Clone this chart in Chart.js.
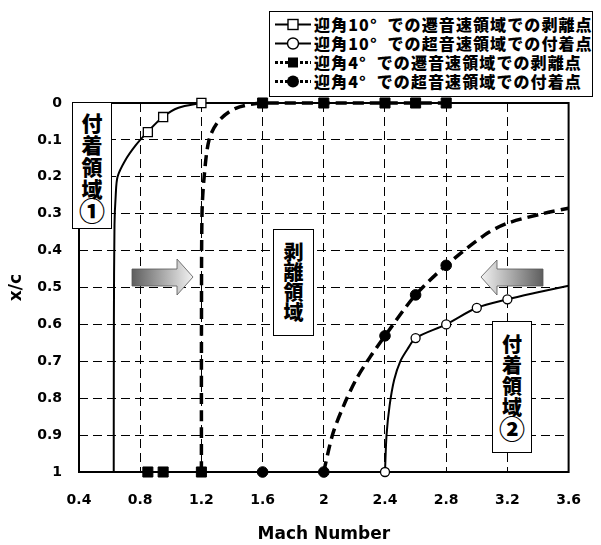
<!DOCTYPE html>
<html>
<head>
<meta charset="utf-8">
<script src="https://cdn.jsdelivr.net/npm/chart.js@4.4.0/dist/chart.umd.min.js"></script>
<style>
  html, body { margin: 0; padding: 0; background: #fff; }
  #wrap { position: relative; width: 601px; height: 545px; overflow: hidden; }
  #chart { position: absolute; left: 0; top: 0; }
  .jp { font-family: "Noto Sans CJK JP", sans-serif; font-weight: 900; color: #000; }
  .box { position: absolute; background: #fff; border: 1.5px solid #000; box-sizing: border-box; text-align: center; }
  .circ { display: inline-block; font-size: 26px; line-height: 22px; }
  #legend { position: absolute; left: 269px; top: 11px; width: 324px; height: 86px; background: #fff; border: 1.5px solid #000; box-sizing: border-box; }
  #legend .row { position: absolute; left: 0; height: 19px; display: flex; align-items: center; }
  #legend svg { margin-left: 5px; margin-right: 3px; flex: none; }
  #legend span { font-size: 16px; letter-spacing: 1.1px; word-spacing: 5px; line-height: 19px; white-space: nowrap; }
  .arrow { position: absolute; }
</style>
</head>
<body>
<div id="wrap">
  <canvas id="chart" width="601" height="545"></canvas>

  <div id="legend" class="jp">
    <div class="row" style="top:3px;">
      <svg width="36" height="19"><line x1="0" y1="9.5" x2="36" y2="9.5" stroke="#000" stroke-width="2"/><rect x="13" y="4.5" width="10" height="10" fill="#fff" stroke="#000" stroke-width="1.4"/></svg>
      <span>迎角10° での遷音速領域での剥離点</span>
    </div>
    <div class="row" style="top:22px;">
      <svg width="36" height="19"><line x1="0" y1="9.5" x2="36" y2="9.5" stroke="#000" stroke-width="2"/><circle cx="18" cy="9.5" r="5.5" fill="#fff" stroke="#000" stroke-width="1.4"/></svg>
      <span>迎角10° での超音速領域での付着点</span>
    </div>
    <div class="row" style="top:41px;">
      <svg width="36" height="19"><line x1="0" y1="9.5" x2="36" y2="9.5" stroke="#000" stroke-width="3" stroke-dasharray="3,2"/><rect x="13" y="4.5" width="10" height="10" fill="#000"/></svg>
      <span>迎角4° での遷音速領域での剥離点</span>
    </div>
    <div class="row" style="top:60px;">
      <svg width="36" height="19"><line x1="0" y1="9.5" x2="36" y2="9.5" stroke="#000" stroke-width="3" stroke-dasharray="3,2"/><circle cx="18" cy="9.5" r="6" fill="#000"/></svg>
      <span>迎角4° での超音速領域での付着点</span>
    </div>
  </div>

  <div class="box jp" style="left:72px; top:102px; width:40px; height:127px; font-size:21px; line-height:22px; padding-top:8px;">付<br>着<br>領<br>域<br><span class="circ">①</span></div>
  <div class="box jp" style="left:273px; top:229px; width:41px; height:107px; font-size:20px; line-height:20px; padding-top:12px;">剥<br>離<br>領<br>域</div>
  <div class="box jp" style="left:492px; top:321px; width:40px; height:132px; font-size:20px; line-height:21px; padding-top:11px;">付<br>着<br>領<br>域<br><span class="circ">②</span></div>

  <svg class="arrow" style="left:130px; top:257px;" width="66" height="40">
    <defs><linearGradient id="gR" x1="0" x2="1" y1="0" y2="0"><stop offset="0" stop-color="#5e5e5e"/><stop offset="1" stop-color="#f2f2f2"/></linearGradient></defs>
    <polygon points="2,12 47,12 47,2 63,20 47,38 47,29 2,29" fill="url(#gR)" stroke="#555" stroke-width="0.8"/>
  </svg>
  <svg class="arrow" style="left:479px; top:258px;" width="66" height="40">
    <defs><linearGradient id="gL" x1="0" x2="1" y1="0" y2="0"><stop offset="0" stop-color="#f2f2f2"/><stop offset="1" stop-color="#5e5e5e"/></linearGradient></defs>
    <polygon points="2,19 18,2 18,11 64,11 64,28 18,28 18,37" fill="url(#gL)" stroke="#555" stroke-width="0.8"/>
  </svg>
</div>

<script>
// axis ticks
const xTicks = [0.4, 0.8, 1.2, 1.6, 2.0, 2.4, 2.8, 3.2, 3.6];
const xTickLabels = ['0.4', '0.8', '1.2', '1.6', '2', '2.4', '2.8', '3.2', '3.6'];
const yTicks = [0, 0.1, 0.2, 0.3, 0.4, 0.5, 0.6, 0.7, 0.8, 0.9, 1];
const yTickLabels = ['0', '0.1', '0.2', '0.3', '0.4', '0.5', '0.6', '0.7', '0.8', '0.9', '1'];

// marker points
const sub10X = [0.85, 0.95, 1.2];
const sub10Y = [0.079, 0.038, 0];
const sup10X = [2.4, 2.6, 2.8, 3.0, 3.2];
const sup10Y = [1, 0.637, 0.6, 0.555, 0.532];
const sub4X = [0.85, 0.95, 1.2, 1.6, 2.0, 2.4, 2.6, 2.8];
const sub4Y = [1, 1, 1, 0, 0, 0, 0, 0];
const sup4X = [1.6, 2.0, 2.4, 2.6, 2.8];
const sup4Y = [1, 1, 0.631, 0.52, 0.44];

// curves
const curve10SubX = [0.627, 0.628, 0.632, 0.640, 0.652, 0.70, 0.77, 0.847, 0.948, 1.05, 1.2];
const curve10SubY = [1, 0.6, 0.33, 0.25, 0.20, 0.157, 0.115, 0.079, 0.038, 0.013, 0];
const curve10SupX = [2.4, 2.41, 2.43, 2.46, 2.5, 2.55, 2.6, 2.8, 3.0, 3.2, 3.4, 3.6];
const curve10SupY = [1, 0.9, 0.82, 0.75, 0.70, 0.665, 0.637, 0.6, 0.555, 0.532, 0.513, 0.495];
const curve4SubX = [1.2, 1.2005, 1.204, 1.218, 1.25, 1.31, 1.42, 1.6, 2.0, 2.4, 2.6, 2.8];
const curve4SubY = [1, 0.6, 0.3, 0.2, 0.1, 0.05, 0.015, 0, 0, 0, 0, 0];
const curve4SupX = [2.0, 2.01, 2.06, 2.13, 2.21, 2.3, 2.4, 2.6, 2.8, 3.05, 3.2, 3.43, 3.6];
const curve4SupY = [1, 0.98, 0.895, 0.82, 0.75, 0.69, 0.631, 0.52, 0.44, 0.358, 0.326, 0.30, 0.285];

const pts = (xs, ys) => xs.map((x, i) => ({ x: x, y: ys[i] }));

const tickFont = { family: 'DejaVu Sans', weight: 'bold', size: 14 };
const titleFont = { family: 'DejaVu Sans', weight: 'bold', size: 17 };

const lineSet = (xs, ys, dashed) => ({
  data: pts(xs, ys),
  showLine: true,
  borderColor: '#000',
  borderWidth: dashed ? 3.5 : 2,
  borderDash: dashed ? [11, 6] : [],
  pointRadius: 0,
  tension: 0.3,
  clip: 4,
  order: 2
});

const markerSet = (xs, ys, style, r, filled) => ({
  data: pts(xs, ys),
  showLine: false,
  pointStyle: style,
  pointRadius: r,
  pointBackgroundColor: filled ? '#000' : '#fff',
  pointBorderColor: '#000',
  pointBorderWidth: filled ? 1 : 1.3,
  clip: false,
  order: 1
});

// plot frame, drawn over the grid and under the data
const frame = {
  id: 'frame',
  beforeDatasetsDraw(chart) {
    const { ctx, chartArea: a } = chart;
    ctx.save();
    ctx.strokeStyle = '#000';
    ctx.lineWidth = 2;
    ctx.setLineDash([]);
    ctx.strokeRect(a.left, a.top, a.right - a.left, a.bottom - a.top);
    ctx.restore();
  }
};

new Chart(document.getElementById('chart'), {
  type: 'scatter',
  data: {
    datasets: [
      lineSet(curve10SubX, curve10SubY, false),
      lineSet(curve10SupX, curve10SupY, false),
      lineSet(curve4SubX, curve4SubY, true),
      lineSet(curve4SupX, curve4SupY, true),
      markerSet(sub10X, sub10Y, 'rect', 6.4, false),
      markerSet(sup10X, sup10Y, 'circle', 4.5, false),
      markerSet(sub4X, sub4Y, 'rect', 7.1, true),
      markerSet(sup4X, sup4Y, 'circle', 5.3, true)
    ]
  },
  options: {
    responsive: false,
    animation: false,
    events: [],
    layout: { padding: { top: 103, right: 14, left: 0, bottom: 0 } },
    plugins: { legend: { display: false }, tooltip: { enabled: false } },
    scales: {
      x: {
        type: 'linear',
        min: 0.4,
        max: 3.6,
        afterBuildTicks: s => { s.ticks = xTicks.map(v => ({ value: v })); },
        afterFit: s => { s.height = 73; },
        ticks: {
          callback: (v, i) => xTickLabels[i],
          font: tickFont, color: '#000', padding: 20, maxRotation: 0, autoSkip: false
        },
        grid: { color: '#000', lineWidth: 1, drawTicks: false },
        border: { display: false, dash: [9, 5] },
        title: { display: true, text: 'Mach Number', font: titleFont, color: '#000', padding: { top: 0, bottom: 0 } }
      },
      y: {
        type: 'linear',
        min: 0,
        max: 1,
        reverse: true,
        afterBuildTicks: s => { s.ticks = yTicks.map(v => ({ value: v })); },
        afterFit: s => { s.width = 79; },
        ticks: {
          callback: (v, i) => yTickLabels[i],
          font: tickFont, color: '#000', padding: 17, autoSkip: false
        },
        grid: { color: '#000', lineWidth: 1, drawTicks: false },
        border: { display: false, dash: [9, 5] },
        title: { display: true, text: 'x/c', font: titleFont, color: '#000', padding: { top: 6, bottom: 0 } }
      }
    }
  },
  plugins: [frame]
});
</script>
</body>
</html>
